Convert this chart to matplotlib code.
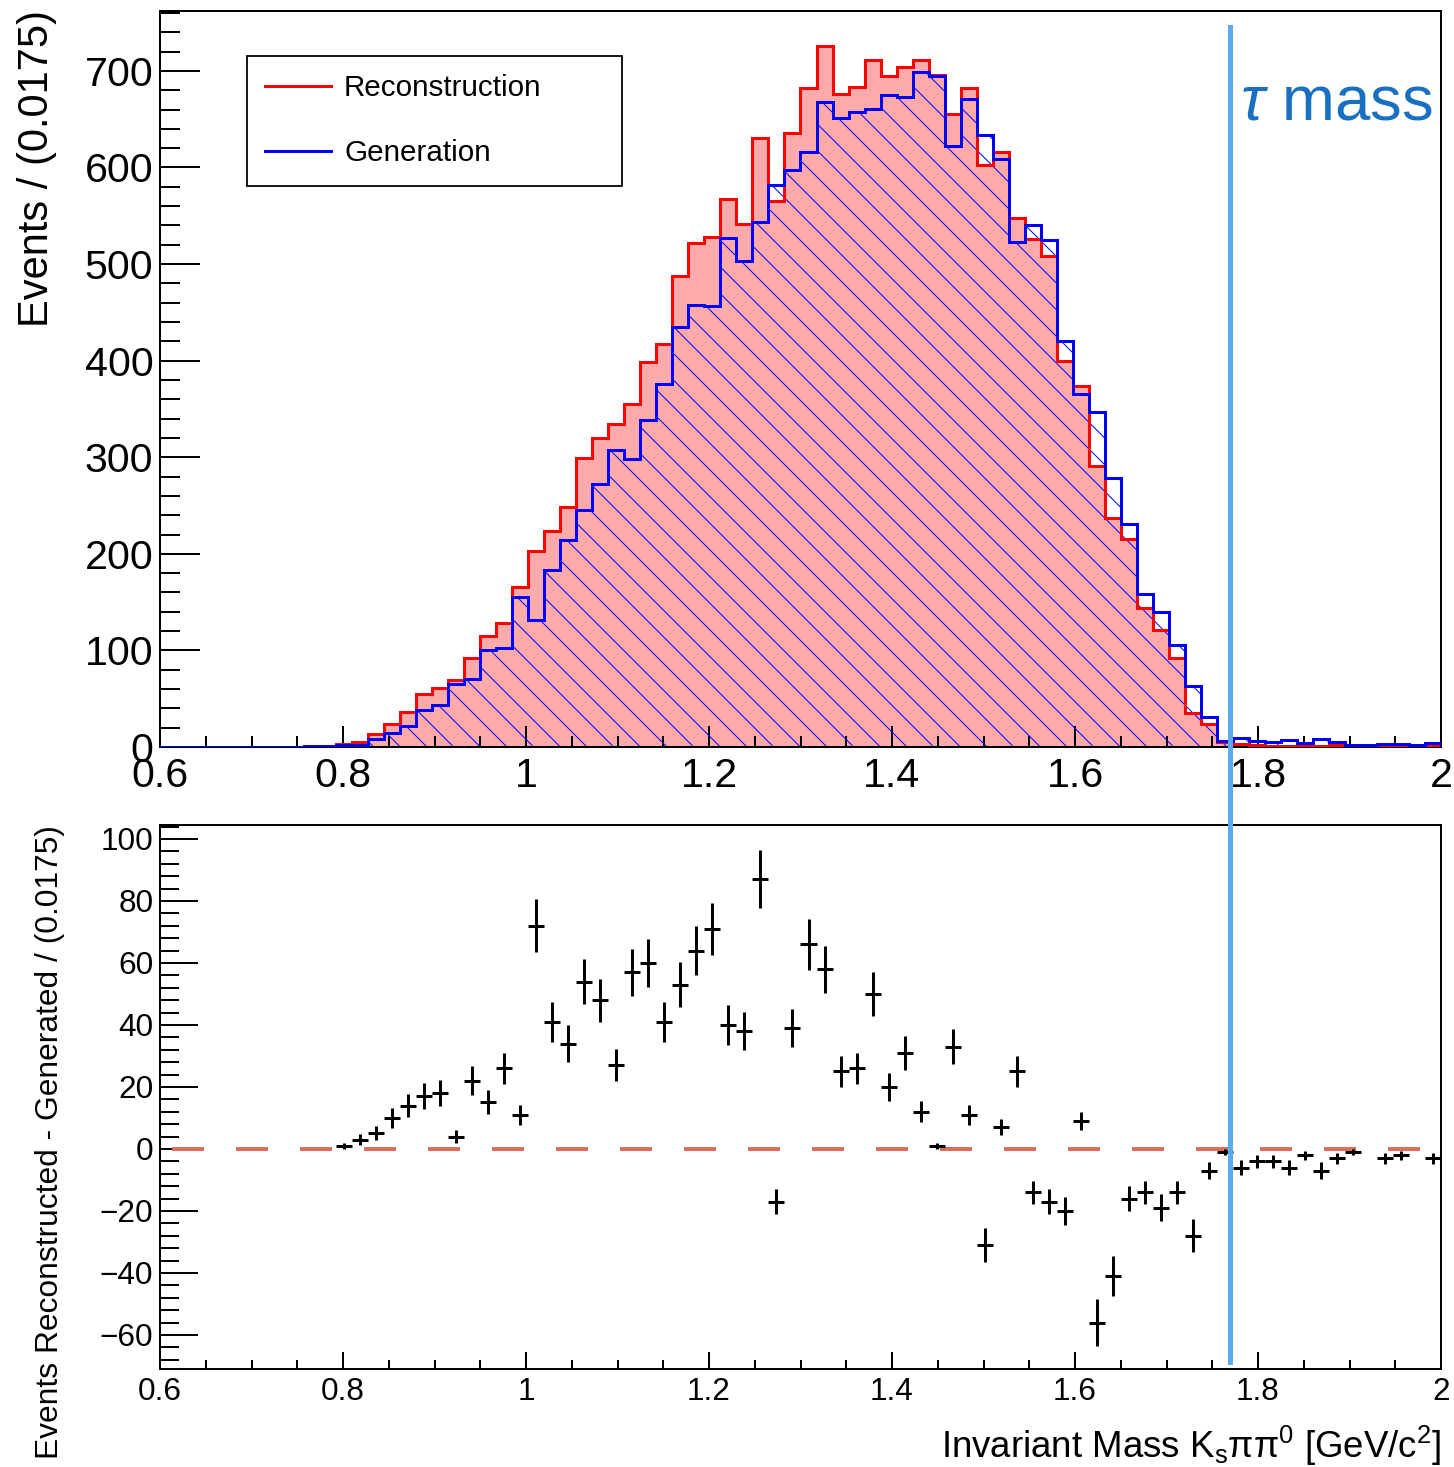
import numpy as np
import matplotlib
matplotlib.use("Agg")
import matplotlib.pyplot as plt
import matplotlib.transforms as mtransforms
from matplotlib.lines import Line2D
from matplotlib.ticker import MultipleLocator, FixedLocator, FixedFormatter

# ---------------- data ----------------
x_min, x_max, n_bins = 0.6, 2.0, 80
rec = [0, 0, 0, 0, 0, 0, 0, 0, 0, 1,
       1, 3, 5, 13, 24, 36, 55, 61, 69, 92,
       115, 128, 166, 203, 224, 248, 299, 320, 334, 355,
       399, 417, 488, 522, 528, 567, 541, 631, 565, 636,
       682, 726, 676, 683, 711, 695, 704, 711, 696, 655,
       682, 603, 616, 548, 526, 508, 400, 374, 291, 237,
       215, 144, 121, 92, 35, 24, 5, 3, 2, 1,
       1, 2, 1, 2, 1, 2, 0, 1, 2, 1]
gen = [0, 0, 0, 0, 0, 0, 0, 0, 0, 1,
       1, 2, 2, 8, 14, 22, 38, 43, 65, 70,
       100, 102, 155, 131, 183, 214, 245, 272, 307, 298,
       339, 376, 435, 458, 457, 527, 503, 544, 582, 597,
       616, 668, 651, 657, 661, 675, 673, 699, 695, 622,
       671, 634, 609, 523, 540, 525, 420, 365, 347, 278,
       231, 158, 140, 106, 63, 31, 6, 9, 6, 5,
       7, 4, 8, 5, 2, 2, 3, 3, 2, 4]
tau_line_x = 1.769
legend_labels = ["Reconstruction", "Generation"]
xtick_vals = [0.6, 0.8, 1.0, 1.2, 1.4, 1.6, 1.8, 2.0]
xtick_labels = ["0.6", "0.8", "1", "1.2", "1.4", "1.6", "1.8", "2"]

# ---------------- style ----------------
DPI = 80
W, H = 1454, 1467
plt.rcParams["font.family"] = ["Liberation Sans", "DejaVu Sans"]
plt.rcParams["mathtext.fontset"] = "custom"
plt.rcParams["mathtext.rm"] = "Liberation Sans"
plt.rcParams["mathtext.it"] = "Liberation Sans:italic"
plt.rcParams["hatch.linewidth"] = 0.9

fig = plt.figure(figsize=(W / DPI, H / DPI), dpi=DPI)
ax_top = fig.add_axes([160 / W, 1 - 747 / H, 1281 / W, 736 / H])
ax_bot = fig.add_axes([160 / W, 1 - 1369 / H, 1281 / W, 544 / H])

edges = np.linspace(x_min, x_max, n_bins + 1)
centers = 0.5 * (edges[:-1] + edges[1:])
bw = edges[1] - edges[0]
rec_a = np.array(rec, float)
gen_a = np.array(gen, float)

lw_hist = 2.7
# top panel
ax_top.stairs(rec_a, edges, fill=True, facecolor="#ffaaaa", edgecolor="none", linewidth=0, zorder=1)
ax_top.stairs(gen_a, edges, fill=True, facecolor="none", edgecolor="#0000ff", hatch="\\", linewidth=0, zorder=2)
ax_top.stairs(rec_a, edges, color="#ff0000", linewidth=lw_hist, zorder=3)
ax_top.stairs(gen_a, edges, color="#0000ff", linewidth=lw_hist, zorder=4)
ax_top.set_xlim(x_min, x_max)
ax_top.set_ylim(0, 762)

handles = [Line2D([], [], color="#ff0000", lw=lw_hist), Line2D([], [], color="#0000ff", lw=lw_hist)]
leg = ax_top.legend(handles, legend_labels, loc="upper left",
                    bbox_to_anchor=((247 - 160) / 1281, 1 - (63 - 11) / 736, (622 - 247) / 1281, 0.01),
                    mode="expand", borderaxespad=0, fancybox=False, edgecolor="black",
                    framealpha=1, fontsize=26.7, handlelength=2.2, handletextpad=0.45,
                    labelspacing=1.25, borderpad=0.62)
leg.get_frame().set_linewidth(1.6)

# bottom panel
diff = rec_a - gen_a
mask = diff != 0
ax_bot.errorbar(centers[mask], diff[mask], xerr=bw / 2, yerr=np.sqrt(np.abs(diff[mask])),
                fmt="none", ecolor="black", elinewidth=2.7, capsize=0, zorder=3)
ax_bot.plot([0.613, x_max], [0, 0], color="#d96f5c", lw=3.6, dashes=(8, 8), zorder=2)
ax_bot.set_xlim(x_min, x_max)
ax_bot.set_ylim(-71, 104.5)

for ax, fs, xl, xm, yl, ym, pad_x, pad_y in [
        (ax_top, 37, 19, 10, 36, 18, 9, 6),
        (ax_bot, 28.3, 15, 8, 34, 17, 7, 6)]:
    ax.xaxis.set_major_locator(FixedLocator(xtick_vals))
    ax.xaxis.set_major_formatter(FixedFormatter(xtick_labels))
    ax.xaxis.set_minor_locator(MultipleLocator(0.05))
    ax.tick_params(which="both", direction="in", top=False, right=False, width=1.8, labelsize=fs)
    ax.tick_params(axis="x", which="major", length=xl, pad=pad_x)
    ax.tick_params(axis="x", which="minor", length=xm)
    ax.tick_params(axis="y", which="major", length=yl, pad=pad_y)
    ax.tick_params(axis="y", which="minor", length=ym)
    for s in ax.spines.values():
        s.set_linewidth(1.8)

ax_top.yaxis.set_major_locator(MultipleLocator(100))
ax_top.yaxis.set_minor_locator(MultipleLocator(20))
ax_bot.yaxis.set_major_locator(MultipleLocator(20))
ax_bot.yaxis.set_minor_locator(MultipleLocator(4))

# axis titles
fig.text(37 / W, 1 - 10 / H, "Events / (0.0175)", rotation=90, ha="center", va="top", fontsize=37.5)
fig.text(50 / W, 1 - 825 / H, "Events Reconstructed - Generated / (0.0175)", rotation=90,
         ha="center", va="top", fontsize=28.6)
fig.text(1441 / W, 1 - 1446 / H,
         r"Invariant Mass K$_{\mathregular{s}}$ππ$^{\mathregular{0}}$ [GeV/c$^{\mathregular{2}}$]",
         ha="right", va="center", fontsize=33)

# tau mass line and label
trans = mtransforms.blended_transform_factory(ax_top.transData, fig.transFigure)
fig.add_artist(Line2D([tau_line_x, tau_line_x], [1 - 27 / H, 1 - 1362 / H], transform=trans,
                      color="#5aabf0", lw=4.5, zorder=10))
fig.text(1240 / W, 1 - 120 / H, r"$\tau$ mass", color="#1a70c0", fontsize=57, ha="left", va="baseline")

fig.savefig("out.png", dpi=DPI)
